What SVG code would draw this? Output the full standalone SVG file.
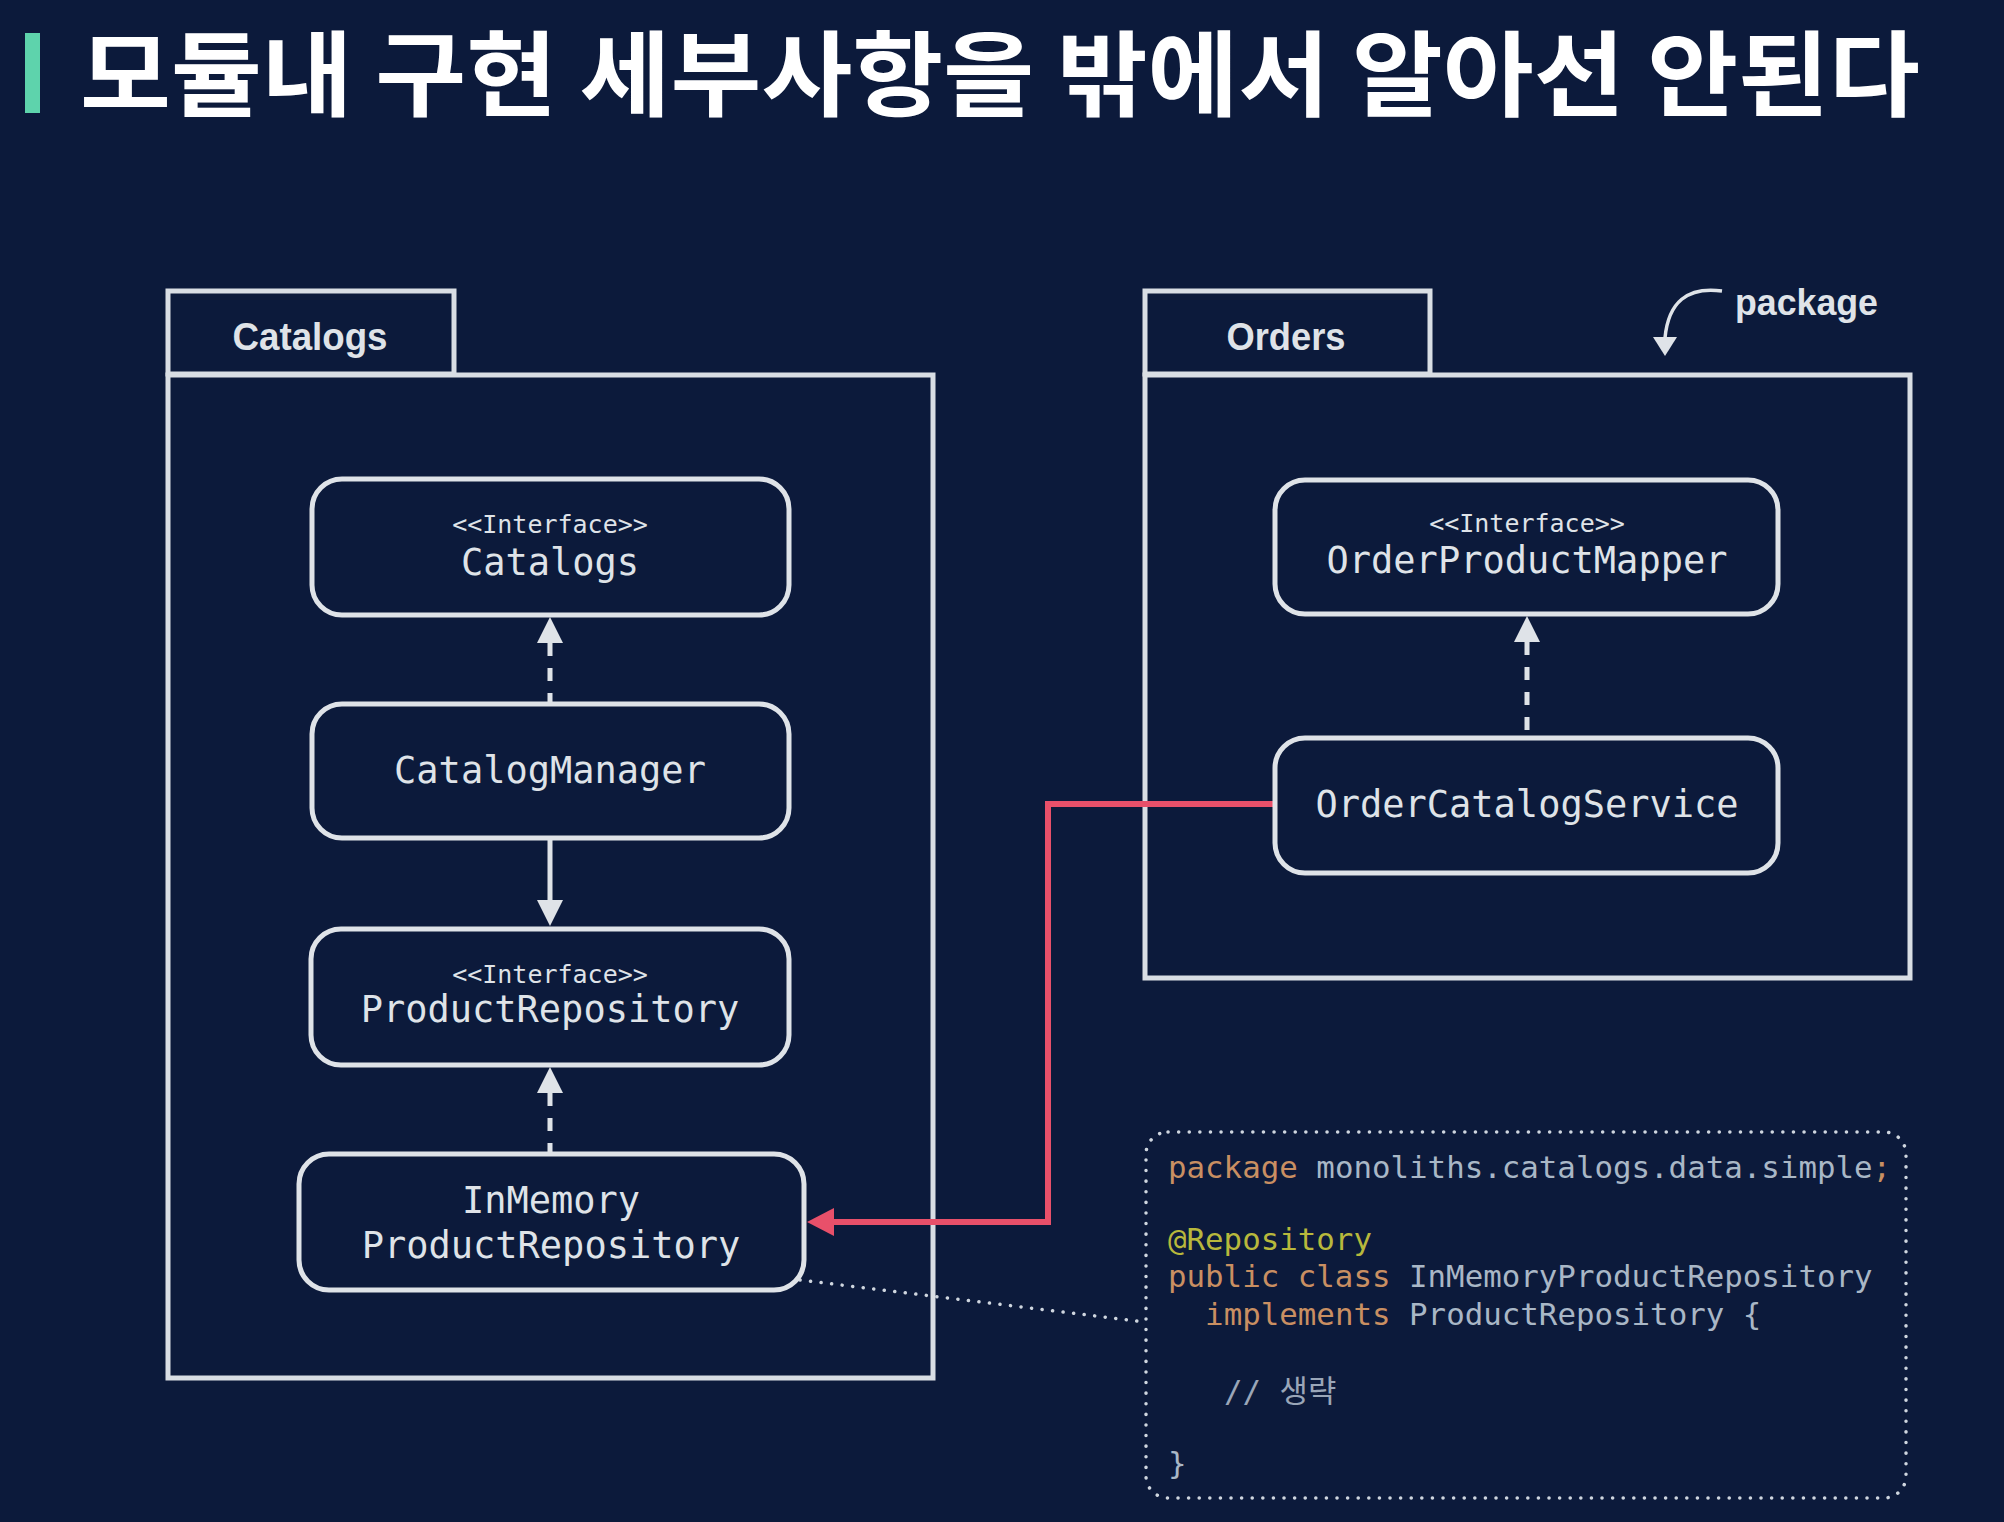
<svg xmlns="http://www.w3.org/2000/svg" width="2004" height="1522" viewBox="0 0 2004 1522">
<defs>
<style>
.bg{fill:#0c1a3b}
.title{font-family:"Noto Sans CJK KR","Noto Sans",sans-serif;font-weight:700;font-size:93px;fill:#ffffff}
.pkg{fill:none;stroke:#d9dee4;stroke-width:5}
.pkglbl{font-family:"Liberation Sans","Noto Sans",sans-serif;font-weight:700;font-size:38px;fill:#dfe3e8;text-anchor:middle}
.node{fill:#0c1a3b;stroke:#dfe3e8;stroke-width:5}
.stereo{font-family:"DejaVu Sans Mono",monospace;font-size:25px;fill:#dfe3e8;text-anchor:middle}
.name{font-family:"DejaVu Sans Mono",monospace;font-size:37px;fill:#dfe3e8;text-anchor:middle}
.edge{fill:none;stroke:#dfe3e8;stroke-width:5}
.dash{stroke-dasharray:13 12}
.red{fill:none;stroke:#e8506a;stroke-width:6}
.dots{fill:none;stroke:#cfd6df;stroke-width:3.5;stroke-linecap:round;stroke-dasharray:0.1 10.5}
.code{font-family:"DejaVu Sans Mono","Noto Sans CJK KR",monospace;font-size:30.8px;fill:#a9b7c6;white-space:pre}
.kw{fill:#c98f62}
.ann{fill:#b8b83c}
.cmt{fill:#9aa6b8}
</style>
<marker id="ah" markerUnits="userSpaceOnUse" viewBox="0 0 26 26" markerWidth="26" markerHeight="26" refX="0" refY="13" orient="auto-start-reverse">
<path d="M0,0 L26,13 L0,26 z" fill="#dfe3e8"/>
</marker>
<marker id="ahr" markerUnits="userSpaceOnUse" viewBox="0 0 27 28" markerWidth="27" markerHeight="28" refX="0" refY="14" orient="auto">
<path d="M0,0 L27,14 L0,28 z" fill="#e8506a"/>
</marker>
</defs>
<rect class="bg" x="0" y="0" width="2004" height="1522"/>

<g id="title">
<rect x="25" y="33" width="15" height="80" fill="#5ed3ac"/>
<text class="title" x="80" y="109" textLength="1840" lengthAdjust="spacingAndGlyphs">모듈내 구현 세부사항을 밖에서 알아선 안된다</text>
</g>

<g id="pkg-catalogs">
<rect class="pkg" x="168" y="291" width="286" height="83"/>
<rect class="pkg" x="168" y="375" width="765" height="1003"/>
<text class="pkglbl" x="310" y="350" textLength="155" lengthAdjust="spacingAndGlyphs">Catalogs</text>
</g>

<g id="pkg-orders">
<rect class="pkg" x="1145" y="291" width="285" height="83"/>
<rect class="pkg" x="1145" y="375" width="765" height="603"/>
<text class="pkglbl" x="1286" y="350" textLength="119" lengthAdjust="spacingAndGlyphs">Orders</text>
</g>

<g id="package-note">
<path d="M1722,291 Q1670,284 1665,338" fill="none" stroke="#dfe3e8" stroke-width="3.5"/>
<path d="M1653,337 L1677,337 L1665,356 z" fill="#dfe3e8"/>
<text x="1735" y="315" font-family="Liberation Sans, Noto Sans, sans-serif" font-weight="700" font-size="36" fill="#dfe3e8" textLength="143" lengthAdjust="spacingAndGlyphs">package</text>
</g>

<g id="connectors">
<path class="edge dash" d="M550,643 V704" marker-start="url(#ah)"/>
<path class="edge" d="M550,838 V900" marker-end="url(#ah)"/>
<path class="edge dash" d="M550,1093 V1154" marker-start="url(#ah)"/>
<path class="edge dash" d="M1527,642 V738" marker-start="url(#ah)"/>
<path class="red" d="M1275,804 H1048 V1222 H834" marker-end="url(#ahr)"/>
<path class="dots" d="M800,1280 L1145,1322"/>
</g>

<g id="node-catalogs">
<rect class="node" x="312" y="479" width="477" height="136" rx="30"/>
<text class="stereo" x="550" y="533">&lt;&lt;Interface&gt;&gt;</text>
<text class="name" x="550" y="575">Catalogs</text>
</g>

<g id="node-catalogmanager">
<rect class="node" x="312" y="704" width="477" height="134" rx="30"/>
<text class="name" x="550" y="783">CatalogManager</text>
</g>

<g id="node-productrepository">
<rect class="node" x="311" y="929" width="478" height="136" rx="30"/>
<text class="stereo" x="550" y="983">&lt;&lt;Interface&gt;&gt;</text>
<text class="name" x="550" y="1022">ProductRepository</text>
</g>

<g id="node-inmemory">
<rect class="node" x="299" y="1154" width="505" height="136" rx="30"/>
<text class="name" x="551" y="1213">InMemory</text>
<text class="name" x="551" y="1258">ProductRepository</text>
</g>

<g id="node-orderproductmapper">
<rect class="node" x="1275" y="480" width="503" height="134" rx="30"/>
<text class="stereo" x="1527" y="532">&lt;&lt;Interface&gt;&gt;</text>
<text class="name" x="1527" y="573">OrderProductMapper</text>
</g>

<g id="node-ordercatalogservice">
<rect class="node" x="1275" y="738" width="503" height="135" rx="30"/>
<text class="name" x="1527" y="817">OrderCatalogService</text>
</g>

<g id="code-note">
<rect class="dots" x="1146" y="1132" width="760" height="366" rx="22"/>
<text class="code" x="1168" y="1178"><tspan class="kw">package</tspan> monoliths.catalogs.data.simple<tspan class="kw">;</tspan></text>
<text class="code ann" x="1168" y="1250">@Repository</text>
<text class="code" x="1168" y="1287"><tspan class="kw">public class</tspan> InMemoryProductRepository</text>
<text class="code" x="1168" y="1325">  <tspan class="kw">implements</tspan> ProductRepository {</text>
<text class="code cmt" x="1224" y="1402">// 생략</text>
<text class="code" x="1168" y="1474">}</text>
</g>
</svg>
